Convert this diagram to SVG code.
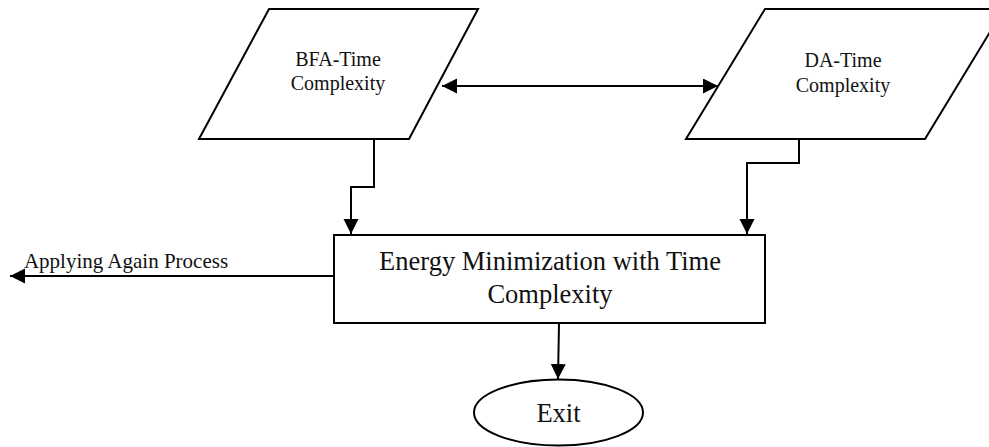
<svg xmlns="http://www.w3.org/2000/svg" width="989" height="447" viewBox="0 0 989 447">
<style>
.shape{fill:#fff;stroke:#000;stroke-width:2}
.conn{fill:none;stroke:#000;stroke-width:2}
text{font-family:"Liberation Serif","Times New Roman",serif;fill:#111;text-anchor:middle}
.s{font-size:20px}
.m{font-size:26.5px}
</style>
<defs>
<marker id="ah" markerUnits="userSpaceOnUse" markerWidth="16" markerHeight="16" refX="15" refY="7.5" orient="auto-start-reverse" viewBox="0 0 16 16">
<path d="M0,0 L15,7.5 L0,15 Z" fill="#000"/>
</marker>
</defs>
<rect width="989" height="447" fill="#fff"/>
<g id="connectors">
<path class="conn" d="M374,139 V187 H351 V234" marker-end="url(#ah)"/>
<path class="conn" d="M799,139 V163 H747 V234" marker-end="url(#ah)"/>
<path class="conn" d="M442,86 H718" marker-start="url(#ah)" marker-end="url(#ah)"/>
<path class="conn" d="M559,323 L558,379" marker-end="url(#ah)"/>
<path class="conn" d="M334,276 H10" stroke-width="1.6" marker-end="url(#ah)"/>
<text class="s" x="126" y="268" style="font-size:21px">Applying Again Process</text>
</g>
<g id="bfa">
<polygon class="shape" points="269,9 478,9 409,139 199,139"/>
<text class="s" x="338" y="66">BFA-Time</text>
<text class="s" x="338" y="90">Complexity</text>
</g>
<g id="da">
<polygon class="shape" points="765,9 1004,9 925,139 686,139"/>
<text class="s" x="843" y="67">DA-Time</text>
<text class="s" x="843" y="92">Complexity</text>
</g>
<g id="energy">
<rect class="shape" x="334" y="235" width="431" height="88"/>
<text class="m" x="550" y="270">Energy Minimization with Time</text>
<text class="m" x="550" y="303">Complexity</text>
</g>
<g id="exit">
<ellipse class="shape" cx="558.5" cy="412.5" rx="84.5" ry="33"/>
<text class="m" x="558.5" y="422">Exit</text>
</g>
</svg>
